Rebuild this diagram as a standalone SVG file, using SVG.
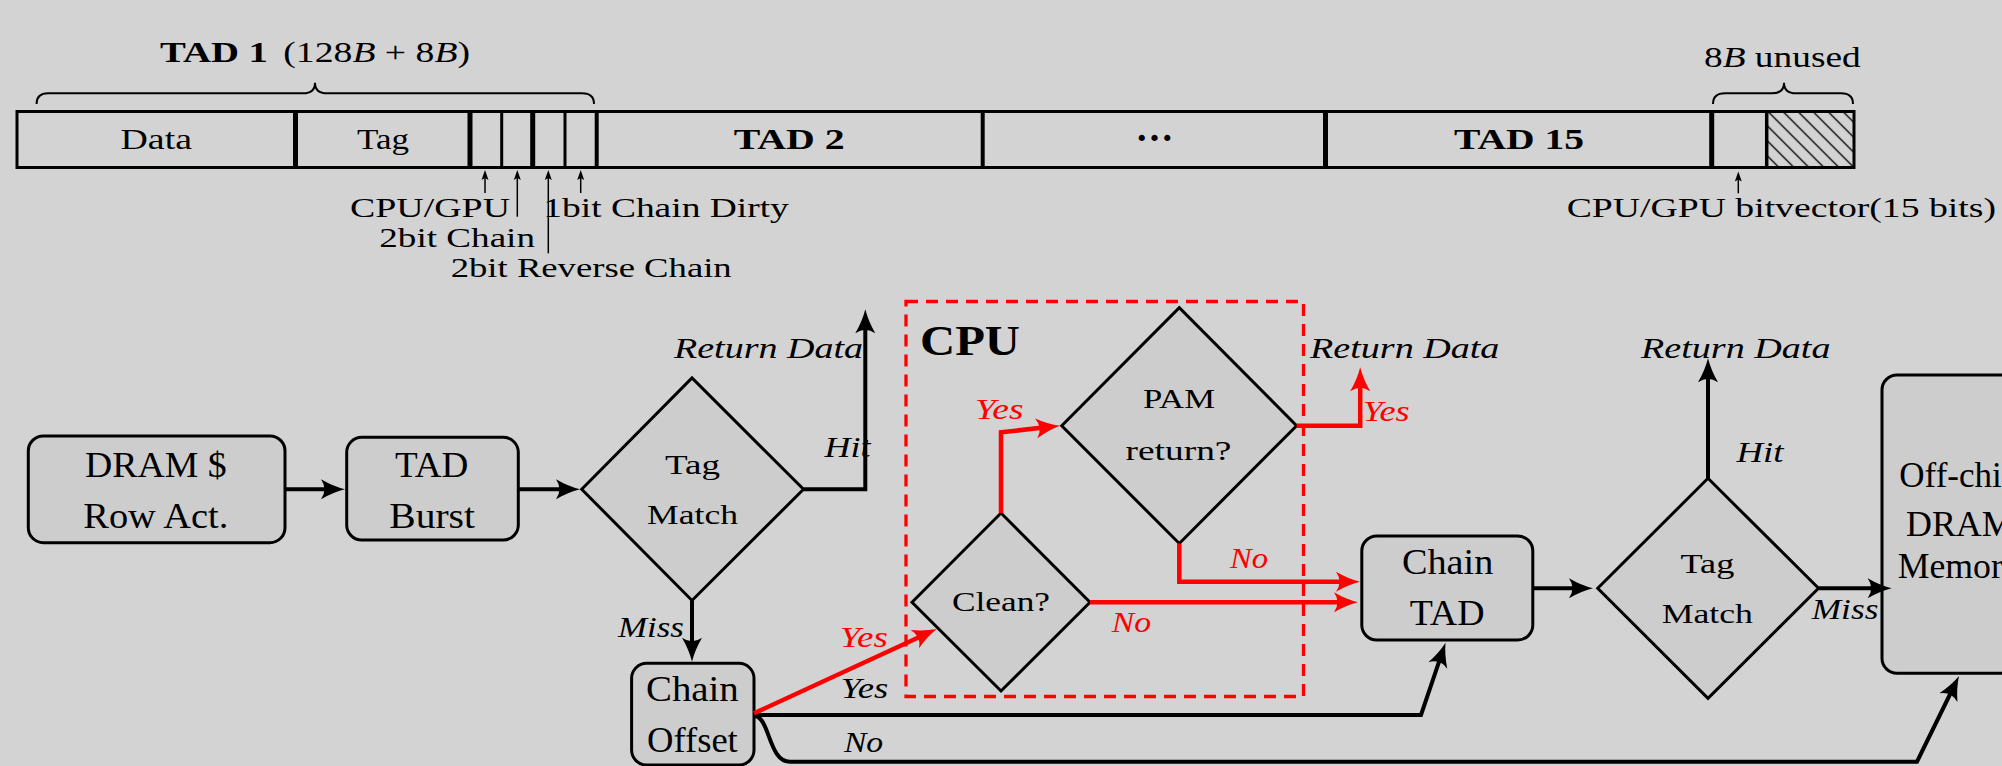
<svg xmlns="http://www.w3.org/2000/svg" width="2002" height="766" viewBox="0 0 2002 766">
<defs>
<style>
text { font-family: "Liberation Serif", "Times New Roman", serif; fill: #000; }
.b { font-weight: bold; }
.i { font-style: italic; }
.red { fill: #ff0000; }
.f35 { font-size: 35px; }
.f29 { font-size: 29px; }
.f28 { font-size: 28px; }
.node { fill: #cdcdcd; stroke: #000; stroke-width: 3; }
.bar { fill: none; stroke: #000; stroke-width: 3; }
.conn { fill: none; stroke: #000; stroke-width: 4; marker-end: url(#ah); }
.rconn { fill: none; stroke: #ff0000; stroke-width: 4.5; marker-end: url(#rah); }
.thin { fill: none; stroke: #000; stroke-width: 1.5; marker-end: url(#sa); }
.brace { fill: none; stroke: #000; stroke-width: 2; }
.cpu { fill: none; stroke: #ff0000; stroke-width: 3.3; stroke-dasharray: 12 8; }
</style>
<marker id="ah" markerUnits="userSpaceOnUse" markerWidth="30" markerHeight="24" viewBox="-16 -12 30 24" refX="0" refY="0" orient="auto">
<path d="M10,0 Q-2,-3 -14,-10 Q-7,0 -14,10 Q-2,3 10,0Z" fill="#000"/>
</marker>
<marker id="rah" markerUnits="userSpaceOnUse" markerWidth="30" markerHeight="24" viewBox="-16 -12 30 24" refX="0" refY="0" orient="auto">
<path d="M10,0 Q-2,-3 -14,-10 Q-7,0 -14,10 Q-2,3 10,0Z" fill="#ff0000"/>
</marker>
<marker id="sa" markerUnits="userSpaceOnUse" markerWidth="14" markerHeight="10" viewBox="-7 -5 14 10" refX="0" refY="0" orient="auto">
<path d="M6,0 L-4,-3.5 L-2,0 L-4,3.5Z" fill="#000"/>
</marker>
<pattern id="hatch" patternUnits="userSpaceOnUse" width="10.6" height="10.6" patternTransform="rotate(-45)">
<line x1="5.3" y1="-1" x2="5.3" y2="12" stroke="#000" stroke-width="1.4"/>
</pattern>
</defs>

<rect x="0" y="0" width="2002" height="766" fill="#d3d3d3"/>

<!-- Top memory layout bar -->
<g id="tad-bar">
<rect x="1766.7" y="111.5" width="87.3" height="56" fill="url(#hatch)"/>
<rect class="bar" x="17" y="111.5" width="1837" height="56"/>
<g stroke="#000">
<line x1="295.5" y1="111.5" x2="295.5" y2="167.5" stroke-width="5"/>
<line x1="470" y1="111.5" x2="470" y2="167.5" stroke-width="5"/>
<line x1="501.7" y1="111.5" x2="501.7" y2="167.5" stroke-width="3"/>
<line x1="532.7" y1="111.5" x2="532.7" y2="167.5" stroke-width="5"/>
<line x1="565" y1="111.5" x2="565" y2="167.5" stroke-width="3"/>
<line x1="596.7" y1="111.5" x2="596.7" y2="167.5" stroke-width="4"/>
<line x1="982.7" y1="111.5" x2="982.7" y2="167.5" stroke-width="4"/>
<line x1="1325.5" y1="111.5" x2="1325.5" y2="167.5" stroke-width="5"/>
<line x1="1711.7" y1="111.5" x2="1711.7" y2="167.5" stroke-width="5"/>
<line x1="1766.7" y1="111.5" x2="1766.7" y2="167.5" stroke-width="3.5"/>
</g>
<text font-size="29" x="120.5" y="149.3" textLength="71.5" lengthAdjust="spacingAndGlyphs">Data</text>
<text font-size="29" x="357" y="149.3" textLength="52" lengthAdjust="spacingAndGlyphs">Tag</text>
<text class="b" font-size="29" x="733.7" y="149.3" textLength="111" lengthAdjust="spacingAndGlyphs">TAD 2</text>
<text class="b" font-size="38" x="1137" y="140.5" textLength="35" lengthAdjust="spacing">...</text>
<text class="b" font-size="29" x="1454" y="149.3" textLength="130" lengthAdjust="spacingAndGlyphs">TAD 15</text>
</g>

<g id="brace-tad1">
<path class="brace" d="M36.6,104 Q36.6,93.3 48,93.3 L303,93.3 Q315,93.3 315,82.7 Q315,93.3 327,93.3 L582,93.3 Q594,93.3 594,104"/>
<text class="b" font-size="30" x="160" y="61.7" textLength="108" lengthAdjust="spacingAndGlyphs">TAD 1</text>
<text font-size="30" x="283.3" y="61.7" textLength="186.7" lengthAdjust="spacingAndGlyphs">(128<tspan class="i">B</tspan> + 8<tspan class="i">B</tspan>)</text>
</g>

<g id="brace-unused">
<path class="brace" d="M1713,104 Q1713,93.3 1725,93.3 L1772,93.3 Q1784,93.3 1784,82.7 Q1784,93.3 1796,93.3 L1841,93.3 Q1853,93.3 1853,104"/>
<text font-size="29" x="1704" y="67.3" textLength="156.7" lengthAdjust="spacingAndGlyphs">8<tspan class="i">B</tspan> unused</text>
</g>

<g id="bit-labels">
<line class="thin" x1="485" y1="193" x2="485" y2="176"/>
<line class="thin" x1="517.3" y1="216.7" x2="517.3" y2="176"/>
<line class="thin" x1="548.3" y1="253.3" x2="548.3" y2="176"/>
<line class="thin" x1="580.7" y1="193" x2="580.7" y2="176"/>
<line class="thin" x1="1738.3" y1="193.3" x2="1738.3" y2="177.5"/>
<text class="f28" x="350" y="216.7" textLength="160" lengthAdjust="spacingAndGlyphs">CPU/GPU</text>
<text class="f28" x="543.3" y="216.7" textLength="245.5" lengthAdjust="spacingAndGlyphs">1bit Chain Dirty</text>
<text class="f28" x="379.3" y="246.7" textLength="155.7" lengthAdjust="spacingAndGlyphs">2bit Chain</text>
<text class="f28" x="450.7" y="276.7" textLength="281" lengthAdjust="spacingAndGlyphs">2bit Reverse Chain</text>
<text class="f28" x="1566.7" y="216.7" textLength="429.3" lengthAdjust="spacingAndGlyphs">CPU/GPU bitvector(15 bits)</text>
</g>

<!-- CPU region -->
<g id="cpu-region">
<rect class="cpu" x="906" y="301.5" width="397.5" height="395"/>
<text class="b" font-size="43" x="920" y="355" textLength="100" lengthAdjust="spacingAndGlyphs">CPU</text>
</g>

<!-- Nodes -->
<g id="dram-row-act">
<rect class="node" x="28.3" y="436" width="256.7" height="106.7" rx="15"/>
<text class="f35" x="85" y="476.7" textLength="141.7" lengthAdjust="spacingAndGlyphs">DRAM $</text>
<text class="f35" x="83.3" y="528.3" textLength="145" lengthAdjust="spacingAndGlyphs">Row Act.</text>
</g>

<g id="tad-burst">
<rect class="node" x="346.7" y="437.3" width="171.6" height="102.7" rx="15"/>
<text class="f35" x="395" y="476.7" textLength="73.3" lengthAdjust="spacingAndGlyphs">TAD</text>
<text class="f35" x="389.3" y="528.3" textLength="85.7" lengthAdjust="spacingAndGlyphs">Burst</text>
</g>

<g id="tag-match-1">
<polygon class="node" points="581.7,489.3 692,378 803.5,489.3 692,600.5"/>
<text class="f28" x="665" y="474" textLength="55" lengthAdjust="spacingAndGlyphs">Tag</text>
<text class="f28" x="647" y="524.3" textLength="91" lengthAdjust="spacingAndGlyphs">Match</text>
</g>

<g id="chain-offset">
<rect class="node" x="631.6" y="663.3" width="122.4" height="101.7" rx="15"/>
<text class="f35" x="646" y="700.7" textLength="92.8" lengthAdjust="spacingAndGlyphs">Chain</text>
<text class="f35" x="647" y="751.7" textLength="90.8" lengthAdjust="spacingAndGlyphs">Offset</text>
</g>

<g id="clean">
<polygon class="node" points="912,602.3 1001,513 1090,602.3 1001,691"/>
<text class="f28" x="952" y="610.5" textLength="98" lengthAdjust="spacingAndGlyphs">Clean?</text>
</g>

<g id="pam-return">
<polygon class="node" points="1061.7,425.7 1179.3,307.7 1296.6,425.7 1179.3,543.5"/>
<text class="f28" x="1143" y="408.3" textLength="72" lengthAdjust="spacingAndGlyphs">PAM</text>
<text class="f28" x="1125.5" y="460" textLength="106" lengthAdjust="spacingAndGlyphs">return?</text>
</g>

<g id="chain-tad">
<rect class="node" x="1361.8" y="536" width="171" height="104" rx="15"/>
<text class="f35" x="1402" y="574" textLength="91.3" lengthAdjust="spacingAndGlyphs">Chain</text>
<text class="f35" x="1409.7" y="625" textLength="74.8" lengthAdjust="spacingAndGlyphs">TAD</text>
</g>

<g id="tag-match-2">
<polygon class="node" points="1597.7,588.3 1708,478.3 1818.5,588.3 1708,698.3"/>
<text class="f28" x="1680.5" y="573.3" textLength="53.8" lengthAdjust="spacingAndGlyphs">Tag</text>
<text class="f28" x="1661.7" y="623.3" textLength="91.3" lengthAdjust="spacingAndGlyphs">Match</text>
</g>

<g id="off-chip-dram">
<rect class="node" x="1882" y="375" width="155" height="298.3" rx="15"/>
<text class="f35" x="1899.3" y="486.7" textLength="120" lengthAdjust="spacingAndGlyphs">Off-chip</text>
<text class="f35" x="1906" y="536" textLength="107.7" lengthAdjust="spacingAndGlyphs">DRAM</text>
<text class="f35" x="1897.7" y="578.3" textLength="123" lengthAdjust="spacingAndGlyphs">Memory</text>
</g>

<!-- Connectors -->
<g id="connectors">
<path class="conn" d="M285,489.3 H335"/>
<path class="conn" d="M518.3,489.3 H570"/>
<path class="conn" d="M803.5,489.3 H865.3 V319.3"/>
<path class="conn" d="M692,600.5 V651.7"/>
<path class="conn" d="M754,715 H1421 L1442.3,652.2"/>
<path class="conn" d="M754,716 C770,716 768,761.7 790,761.7 H1917 L1954.6,685"/>
<path class="conn" d="M1532.8,588.3 H1583"/>
<path class="conn" d="M1708,478.3 V368.3"/>
<path class="conn" d="M1818.5,588.3 H1881.7"/>
<path class="rconn" d="M754,713.3 L927.6,633.2"/>
<path class="rconn" d="M1001,513 V432.3 L1050.1,426.8"/>
<path class="rconn" d="M1296.6,425.7 H1360.2 V377.3"/>
<path class="rconn" d="M1179.3,543.5 V581.7 H1350"/>
<path class="rconn" d="M1090,602.3 H1348"/>

<g class="labels">
<text class="i f29" x="674" y="358" textLength="189" lengthAdjust="spacingAndGlyphs">Return Data</text>
<text class="i f29" x="824.5" y="456.7" textLength="46" lengthAdjust="spacingAndGlyphs">Hit</text>
<text class="i f29" x="617.9" y="636.7" textLength="66" lengthAdjust="spacingAndGlyphs">Miss</text>
<text class="i f29 red" x="839.8" y="646.7" textLength="48" lengthAdjust="spacingAndGlyphs">Yes</text>
<text class="i f29" x="840.8" y="698.3" textLength="47.5" lengthAdjust="spacingAndGlyphs">Yes</text>
<text class="i f29" x="843.9" y="752.3" textLength="39.3" lengthAdjust="spacingAndGlyphs">No</text>
<text class="i f29 red" x="975" y="419.3" textLength="48.5" lengthAdjust="spacingAndGlyphs">Yes</text>
<text class="i f29" x="1310" y="358.3" textLength="189.4" lengthAdjust="spacingAndGlyphs">Return Data</text>
<text class="i f29 red" x="1362.7" y="420.7" textLength="47" lengthAdjust="spacingAndGlyphs">Yes</text>
<text class="i f29 red" x="1230" y="568.3" textLength="38" lengthAdjust="spacingAndGlyphs">No</text>
<text class="i f29 red" x="1111.7" y="632.3" textLength="39.3" lengthAdjust="spacingAndGlyphs">No</text>
<text class="i f29" x="1641" y="358.3" textLength="189.5" lengthAdjust="spacingAndGlyphs">Return Data</text>
<text class="i f29" x="1736.5" y="461.7" textLength="47" lengthAdjust="spacingAndGlyphs">Hit</text>
<text class="i f29" x="1811.7" y="619.3" textLength="66.7" lengthAdjust="spacingAndGlyphs">Miss</text>
</g>
</g>
</svg>
